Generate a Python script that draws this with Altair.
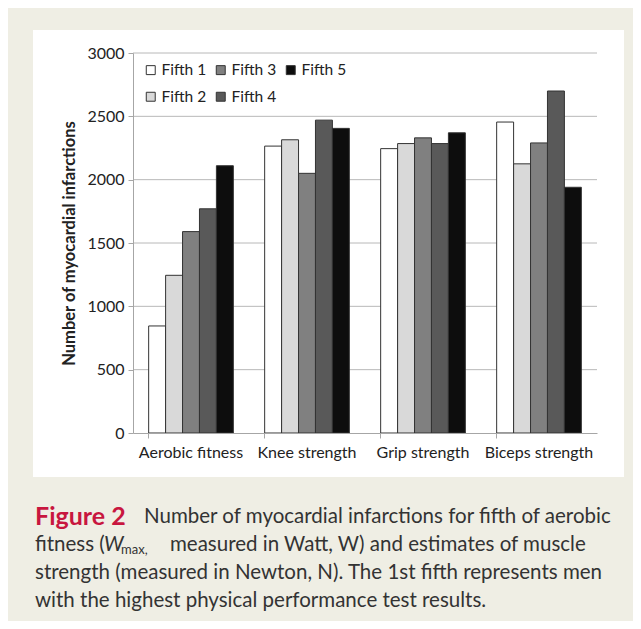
import altair as alt
import pandas as pd

categories = ["Aerobic fitness", "Knee strength", "Grip strength", "Biceps strength"]
fifths = ["Fifth 1", "Fifth 2", "Fifth 3", "Fifth 4", "Fifth 5"]
fifth1 = [845, 2265, 2245, 2455]
fifth2 = [1245, 2315, 2285, 2125]
fifth3 = [1590, 2050, 2330, 2290]
fifth4 = [1770, 2470, 2285, 2700]
fifth5 = [2110, 2405, 2370, 1940]
y_ticks = [0, 500, 1000, 1500, 2000, 2500, 3000]
fill_colors = ["#ffffff", "#d9d9d9", "#808080", "#595959", "#0d0d0d"]

rows = []
for name, vals in zip(fifths, [fifth1, fifth2, fifth3, fifth4, fifth5]):
    for c, v in zip(categories, vals):
        rows.append({"category": c, "fifth": name, "value": v})
df = pd.DataFrame(rows)
grid_df = pd.DataFrame({"value": y_ticks[1:]})

W, H = 464, 380
FONT = "Lato"
one = alt.Data(values=[{"a": 1}])

y_axis = alt.Axis(values=y_ticks, format="d", title="Number of myocardial infarctions",
                  grid=False, zindex=1,
                  titleFont=FONT, titleFontSize=16.5, titleFontWeight="bold",
                  titleColor="#222222", titlePadding=9,
                  labelFont=FONT, labelFontSize=16, labelColor="#222222",
                  labelPadding=4, domainColor="#a6a6a6",
                  tickColor="#a6a6a6", tickSize=5)
y_scale = alt.Scale(domain=[0, 3000])

panel = alt.Chart(one).mark_rect(color="white").encode(
    x=alt.value(-100), x2=alt.value(491), y=alt.value(-23), y2=alt.value(424)
)

grid = alt.Chart(grid_df).mark_rule(color="#b8b8b8", strokeWidth=1).encode(
    y=alt.Y("value:Q", scale=y_scale, axis=y_axis),
    x=alt.value(0), x2=alt.value(W),
)

bars = alt.Chart(df).mark_bar(stroke="#333333", strokeWidth=1).encode(
    x=alt.X("category:N", sort=categories,
            scale=alt.Scale(paddingInner=0.27, paddingOuter=0.135),
            axis=alt.Axis(title=None, labelAngle=0, bandPosition=0,
                          labelFontSize=16, labelFont=FONT, labelColor="#222222",
                          domainColor="#a6a6a6", tickColor="#a6a6a6", tickSize=5,
                          labelPadding=6, zindex=1)),
    xOffset=alt.XOffset("fifth:N", sort=fifths,
                        scale=alt.Scale(paddingInner=0, paddingOuter=0)),
    y=alt.Y("value:Q", scale=y_scale, axis=y_axis),
    color=alt.Color("fifth:N",
                    scale=alt.Scale(domain=fifths, range=fill_colors),
                    legend=alt.Legend(title=None, orient="none", legendX=10, legendY=9,
                                      columns=3, symbolType="square", symbolSize=80,
                                      symbolStrokeColor="#333333", symbolStrokeWidth=1,
                                      labelFont=FONT, labelFontSize=15.5, labelColor="#222222",
                                      labelOffset=3, columnPadding=6, rowPadding=10,
                                      zindex=1)),
)


def txt(s, x, y, size=20.5, color="#333333", weight="normal", style="normal", dy=0):
    return alt.Chart(one).mark_text(
        text=s, align="left", baseline="middle", font=FONT, fontSize=size,
        color=color, fontWeight=weight, fontStyle=style, dy=dy
    ).encode(x=alt.value(x), y=alt.value(y))


caption = [
    txt("Figure 2", -98, 464, size=25, color="#c8163f", weight="bold"),
    txt("Number of myocardial infarctions for fifth of aerobic", 11, 464),
    txt("fitness (", -98, 492),
    txt("W", -29, 492, style="italic"),
    txt("max,", -12, 492, size=13, dy=5),
    txt("measured in Watt, W) and estimates of muscle", 37, 492),
    txt("strength (measured in Newton, N). The 1st fifth represents men", -98, 520),
    txt("with the highest physical performance test results.", -98, 548),
]

chart = alt.layer(panel, grid, bars, *caption).properties(
    width=W, height=H, autosize="none",
    padding={"left": 125, "top": 45, "right": 36, "bottom": 188},
).configure(background="#efeee4").configure_view(stroke=None)

chart.save("out.html", embed_options={"renderer": "svg", "actions": False})
